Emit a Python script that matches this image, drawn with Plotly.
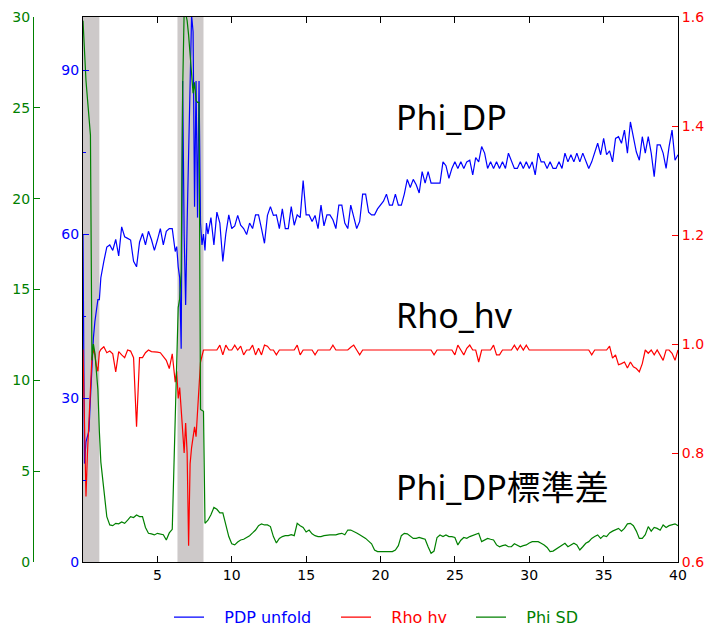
import numpy as np
import plotly.graph_objects as go

# Range-gate distance (km): fine steps inside the two clutter zones, 0.2 km elsewhere
dist_a = np.linspace(0.0, 1.1, 12)
dist_b = np.linspace(1.2, 6.0, 25)
dist_c = np.linspace(6.2, 8.3, 22)
dist_d = np.linspace(8.4, 40.0, 159)

# Unfolded differential phase PDP (deg)
pdp_a = [60, 18, 22, 23, 24, 30, 36, 41, 44, 46, 48, 48]
pdp_b = [52, 55, 57.6, 58, 57, 59, 56, 61.3, 59.5, 59.2, 58.9, 55, 54,
         58.5, 60.1, 58, 60.5, 59, 57, 58.9, 61, 58, 60.5, 61, 61]
pdp_c = [56.8, 57.7, 54, 52, 39, 88, 60, 47, 62, 75, 92, 100, 97, 65,
         88, 63, 88, 62, 58, 60, 57, 62]
pdp_d = [60, 63, 58,
         64, 62, 55, 60, 63.5,
         61, 61.5, 63.4, 61.6, 61,
         59.9, 62, 61, 63.5, 63.5,
         61, 58.3, 63.4, 65, 63.4,
         63.5, 61, 64.6, 61, 61,
         65, 61.6, 63.5, 63, 69.8,
         63.5, 63.5, 62.3, 63.4, 61,
         65.3, 61.5, 63.5, 63.5, 62.6,
         61, 65.3, 65.3, 62, 61,
         65.3, 63, 61, 62.3, 67.3,
         67.3, 64, 63.5, 63.5, 64.6,
         65.3, 66, 67.3, 65.3, 65.3,
         67.3, 65.3, 65.3, 67.3, 70,
         68.5, 70, 69, 67.5, 71.4,
         69.3, 71.4, 69.3, 69.3, 69.3,
         69.3, 73.2, 72.5, 70.2, 72,
         73.2, 72, 73.2, 72, 73.2,
         73.5, 70.8, 74, 73.2, 76,
         74.8, 72, 73.2, 72, 73.2,
         72, 73.2, 72, 74.8, 73.2,
         72, 72, 73.2, 72, 73.2,
         72, 73.2, 70.8, 74.8, 73.2,
         73.2, 72, 73.2, 72, 72,
         73.2, 72, 74.8, 73.2, 74.5,
         73.2, 74.8, 73.2, 74.8, 73.2,
         72, 73.2, 74.8, 76.6, 74.5,
         77.5, 74.5, 75.2, 73.2, 77.5,
         77.8, 76.6, 79, 74.8, 80.5,
         77.8, 75, 73.5, 77.8, 74.8,
         77.8, 74.8, 70.5, 76.3, 76.3,
         74.8, 72, 76, 79, 73.5,
         74.5]

# Co-polar correlation coefficient Rho_hv
rho_a = [0.99, 0.85, 0.72, 0.80, 0.86, 0.93, 0.975, 0.99, 0.98, 0.96, 0.95, 0.985]
rho_b = [0.99, 0.995, 0.984, 0.987, 0.982, 0.949, 0.986, 0.98, 0.975, 0.989,
         0.987, 0.975, 0.848, 0.975, 0.975, 0.984, 0.989, 0.986, 0.986, 0.985,
         0.984, 0.978, 0.97, 0.955, 0.982]
rho_c = [0.93, 0.95, 0.90, 0.92, 0.88, 0.84, 0.80, 0.855, 0.80, 0.63, 0.78,
         0.81, 0.83, 0.848, 0.83, 0.88, 0.94, 0.967, 0.978, 0.989, 0.989, 0.989]
rho_d = [0.989, 0.989, 0.989,
         0.989, 0.998, 0.980, 0.998, 0.989,
         0.989, 0.998, 0.989, 0.996, 0.980,
         0.989, 0.989, 0.998, 0.980, 0.992,
         0.980, 0.998, 0.996, 0.989, 0.989,
         0.980, 0.989, 0.989, 0.989, 0.989,
         0.989, 0.989, 0.998, 0.980, 0.989,
         0.989, 0.989, 0.989, 0.980, 0.989,
         0.989, 0.989, 0.989, 0.989, 0.998,
         0.989, 0.989, 0.989, 0.989, 0.989,
         0.994, 0.998, 0.989, 0.980, 0.989,
         0.989, 0.989, 0.989, 0.989, 0.989,
         0.989, 0.989, 0.989, 0.989, 0.989,
         0.989, 0.989, 0.989, 0.989, 0.989,
         0.989, 0.989, 0.989, 0.989, 0.989,
         0.989, 0.989, 0.989, 0.980, 0.989,
         0.989, 0.989, 0.989, 0.989, 0.989,
         0.980, 0.998, 0.989, 0.980, 0.992,
         0.998, 0.989, 0.989, 0.967, 0.989,
         0.989, 0.989, 0.989, 0.998, 0.980,
         0.980, 0.989, 0.989, 0.989, 0.989,
         0.998, 0.989, 0.998, 0.989, 0.998,
         0.989, 0.989, 0.989, 0.989, 0.989,
         0.989, 0.989, 0.989, 0.989, 0.989,
         0.989, 0.989, 0.989, 0.989, 0.989,
         0.989, 0.989, 0.989, 0.989, 0.989,
         0.989, 0.980, 0.989, 0.989, 0.989,
         0.989, 0.989, 0.996, 0.974, 0.980,
         0.962, 0.964, 0.967, 0.956, 0.967,
         0.958, 0.955, 0.949, 0.964, 0.989,
         0.983, 0.989, 0.980, 0.989, 0.980,
         0.970, 0.989, 0.989, 0.983, 0.970,
         0.989]

# Standard deviation of Phi_DP (deg)
sd_a = [29.8, 28, 26.5, 25.5, 24.5, 23.5, 11.1, 12, 11.5, 10.5, 9.5, 7.2]
sd_b = [5.5, 4.0, 2.5, 2.04, 2.0, 2.13, 2.1, 2.2, 2.13, 2.3, 2.5, 2.45, 2.59,
        2.5, 2.5, 1.9, 1.58, 1.55, 1.49, 1.58, 1.55, 1.5, 1.21, 1.6, 1.8]
sd_c = [8.0, 11.8, 14, 14.5, 16, 26, 30.3, 30.2, 29.8, 29.0, 28.0, 26.9,
        25.8, 26.4, 25.4, 25.3, 25.3, 8.4, 8.37, 8.3, 2.13, 2.2]
sd_d = [2.3, 2.6, 3.0,
        2.9, 2.7, 2.7, 2.0, 1.4,
        1.0, 0.94, 1.1, 1.21, 1.25,
        1.35, 1.45, 1.6, 1.76, 2.0,
        2.1, 2.04, 2.04, 1.95, 1.4,
        1.05, 1.3, 1.4, 1.45, 1.45,
        1.5, 1.45, 2.13, 2.0, 1.9,
        1.65, 1.76, 1.55, 1.45, 1.4,
        1.4, 1.45, 1.49, 1.49, 1.49,
        1.49, 1.55, 1.58, 1.5, 1.76,
        1.76, 1.7, 1.6, 1.5, 1.4,
        1.3, 1.15, 1.0, 0.66, 0.57,
        0.57, 0.57, 0.57, 0.57, 0.57,
        0.66, 0.9, 1.45, 1.58, 1.55,
        1.4, 1.3, 1.3, 1.35, 1.3,
        1.25, 0.84, 0.48, 0.6, 1.35,
        1.49, 1.4, 1.49, 1.4, 1.4,
        1.35, 0.94, 1.2, 1.35, 1.3,
        1.4, 1.45, 1.5, 1.58, 1.12,
        1.21, 1.3, 1.25, 1.21, 0.94,
        0.84, 0.9, 0.94, 0.84, 0.84,
        1.0, 0.94, 0.84, 0.9, 0.94,
        1.05, 1.12, 1.12, 1.12, 1.03,
        0.94, 0.8, 0.57, 0.6, 0.7,
        0.84, 0.94, 1.03, 0.84, 0.95,
        1.03, 0.94, 0.66, 0.84, 1.03,
        1.12, 1.3, 1.4, 1.49, 1.3,
        1.45, 1.4, 1.6, 1.7, 1.76,
        1.85, 1.7, 1.85, 2.1, 2.13,
        2.0, 1.7, 1.3, 1.3, 1.5,
        1.95, 1.7, 1.9, 1.85, 1.75,
        2.04, 1.9, 2.0, 2.04, 2.1,
        2.0]

# Clutter-affected spans (km)
clutter_spans = [(0.0, 1.1), (6.35, 8.1)]

dist = np.concatenate([dist_a, dist_b, dist_c, dist_d])
pdp = pdp_a + pdp_b + pdp_c + pdp_d
rho = rho_a + rho_b + rho_c + rho_d
sd = sd_a + sd_b + sd_c + sd_d
for name, arr in (("pdp", pdp), ("rho", rho), ("sd", sd)):
    if len(arr) != len(dist):
        raise ValueError(f"{name}: {len(arr)} values for {len(dist)} gates")

BLUE, RED, GREEN = "#0000ff", "#ff0000", "#008000"
TICK_FONT = dict(family="DejaVu Sans", size=14)
NB = "\u00a0"

W, H = 707, 626
ML, MR, MT, MB = 33, 29, 17, 64
plot_w = W - ML - MR
x_left = (83 - ML) / plot_w


def legend_label(text, color):
    return f"{NB * 3}<span style='color:{color}'>{text}</span>"


def legend_box(x):
    # one single-entry legend per series, laid out in a row under the axes
    return dict(orientation="h", x=x, xanchor="left", y=-0.07, yanchor="top",
                font=dict(family="DejaVu Sans", size=16),
                bgcolor="rgba(0,0,0,0)", itemwidth=30)


fig = go.Figure()
fig.add_trace(go.Scatter(
    x=dist, y=pdp, mode="lines", line=dict(color=BLUE, width=1.2),
    name=legend_label("PDP unfold", BLUE), yaxis="y", legend="legend"))
fig.add_trace(go.Scatter(
    x=dist, y=rho, mode="lines", line=dict(color=RED, width=1.2),
    name=legend_label("Rho hv", RED), yaxis="y2", legend="legend2"))
fig.add_trace(go.Scatter(
    x=dist, y=sd, mode="lines", line=dict(color=GREEN, width=1.2),
    name=legend_label("Phi SD", GREEN), yaxis="y3", legend="legend3"))

for x0, x1 in clutter_spans:
    fig.add_shape(type="rect", xref="x", yref="y domain", x0=x0, x1=x1,
                  y0=0, y1=1, fillcolor="#cdc9c9", line_width=0, layer="below")

label_font = dict(family="Noto Sans, Noto Sans CJK TC", size=34, color="black")
for text, ypos in (("Phi_DP", 0.816), ("Rho_hv", 0.453), ("Phi_DP標準差", 0.137)):
    fig.add_annotation(text=text, x=20.88, y=ypos, xref="x", yref="paper",
                       xanchor="left", yanchor="middle", showarrow=False,
                       font=label_font)

fig.update_layout(
    width=W, height=H,
    margin=dict(l=ML, r=MR, t=MT, b=MB, autoexpand=False),
    plot_bgcolor="white", paper_bgcolor="white",
    showlegend=True,
    legend=legend_box((185 - 16 - ML) / plot_w),
    legend2=legend_box((352 - 16 - ML) / plot_w),
    legend3=legend_box((490 - 19 - ML) / plot_w),
    xaxis=dict(domain=[x_left, 1], range=[0, 40], tickvals=[5, 10, 15, 20, 25, 30, 35, 40],
               ticks="inside", ticklen=6, tickcolor="black", showline=True,
               linecolor="black", linewidth=1, mirror="ticks", showgrid=False,
               zeroline=False, tickfont=dict(color="black", **TICK_FONT)),
    yaxis=dict(range=[0, 99.7], tickvals=[0, 30, 60, 90], ticks="inside",
               ticklen=6, tickcolor=BLUE, showline=True, linecolor="black",
               linewidth=1, showgrid=False, zeroline=False,
               tickfont=dict(color=BLUE, **TICK_FONT),
               minor=dict(tickvals=[15, 45, 75], ticks="inside", ticklen=3,
                          tickcolor=BLUE, showgrid=False)),
    yaxis2=dict(range=[0.6, 1.6], tickvals=[0.6, 0.8, 1.0, 1.2, 1.4, 1.6],
                ticktext=["0.6", "0.8", "1.0", "1.2", "1.4", "1.6"],
                overlaying="y", side="right", anchor="x", ticks="inside",
                ticklen=6, tickcolor=RED, showline=True, linecolor="black",
                linewidth=1, showgrid=False, zeroline=False,
                tickfont=dict(color=RED, **TICK_FONT)),
    yaxis3=dict(range=[0, 30], tickvals=[0, 5, 10, 15, 20, 25, 30],
                overlaying="y", side="left", anchor="free", position=0,
                ticks="inside", ticklen=6, tickcolor=GREEN, showline=True,
                linecolor=GREEN, linewidth=1, showgrid=False, zeroline=False,
                tickfont=dict(color=GREEN, **TICK_FONT)),
)

fig.write_html("out.html")
